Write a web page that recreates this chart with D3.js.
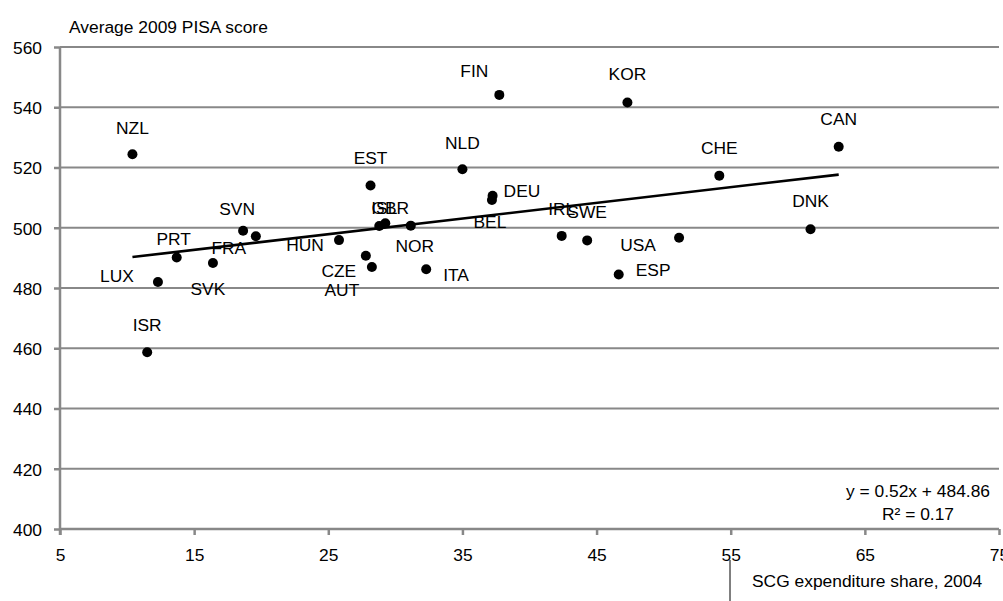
<!DOCTYPE html>
<html>
<head>
<meta charset="utf-8">
<script src="https://cdn.jsdelivr.net/npm/d3@7"></script>
<style>
  html, body { margin: 0; padding: 0; background: #fff; }
  svg { display: block; }
  text { font-family: "Liberation Sans", Arial, sans-serif; font-size: 17.4px; fill: #000; }
</style>
</head>
<body>
<svg id="chart" width="1003" height="601"></svg>
<script>
// ---- data ----
const countries = ["NZL","LUX","ISR","PRT","SVK","SVN","FRA","HUN","CZE","AUT","EST","ISL","GBR","NOR","ITA","NLD","FIN","DEU","BEL","IRL","SWE","ESP","KOR","USA","CHE","DNK","CAN"];
const scgShare  = [10.4, 12.3, 11.5, 13.7, 16.4, 18.65, 19.6, 25.8, 27.8, 28.25, 28.15, 28.8, 29.25, 31.15, 32.3, 35.0, 37.75, 37.25, 37.2, 42.4, 44.3, 46.65, 47.3, 51.15, 54.15, 60.95, 63.05];
const pisaScore = [524.4, 482.0, 458.7, 490.1, 488.3, 499.0, 497.2, 495.9, 490.7, 487.0, 514.0, 500.6, 501.5, 500.7, 486.2, 519.4, 544.1, 510.6, 509.2, 497.3, 495.8, 484.5, 541.6, 496.7, 517.3, 499.5, 526.9];
const xTicks = [5, 15, 25, 35, 45, 55, 65, 75];
const yTicks = [400, 420, 440, 460, 480, 500, 520, 540, 560];
const trendSlope = 0.52;
const trendIntercept = 484.86;
const equationText = "y = 0.52x + 484.86";
const r2Text = "R\u00B2 = 0.17";
const yTitle = "Average 2009 PISA score";
const xTitle = "SCG expenditure share, 2004";

// ---- label layout (pixel offsets from the point) ----
const labelLayout = {
  NZL:[0,-20,"middle"], LUX:[-41,0,"middle"], ISR:[0,-21,"middle"], PRT:[-3,-13,"middle"],
  SVK:[-5,32,"middle"], SVN:[-6,-16,"middle"], FRA:[-27,18,"middle"], HUN:[-34,11,"middle"],
  CZE:[-27,21,"middle"], AUT:[-30,29,"middle"], EST:[0,-22,"middle"], ISL:[5,-12,"middle"],
  GBR:[5,-9,"middle"], NOR:[4,26,"middle"], ITA:[17,12,"start"], NLD:[0,-20,"middle"],
  FIN:[-25,-18,"middle"], DEU:[11,1,"start"], BEL:[-2,28,"middle"], IRL:[0,-21,"middle"],
  SWE:[0,-22,"middle"], ESP:[17,2,"start"], KOR:[0,-22,"middle"], USA:[-41,13,"middle"],
  CHE:[0,-22,"middle"], DNK:[0,-22,"middle"], CAN:[0,-22,"middle"]
};

const svg = d3.select("#chart");
const x = d3.scaleLinear().domain([5, 75]).range([60, 999]);
const y = d3.scaleLinear().domain([400, 560]).range([529, 47]);
const grey = "#888888";

// gridlines
svg.append("g").selectAll("line").data(yTicks).join("line")
  .attr("x1", x(5)).attr("x2", x(75))
  .attr("y1", d => y(d)).attr("y2", d => y(d))
  .attr("stroke", grey).attr("stroke-width", 2);

// y axis
const yAxis = d3.axisLeft(y).tickValues(yTicks).tickSize(6).tickPadding(12).tickFormat(d3.format("d"));
const gy = svg.append("g").attr("transform", `translate(${x(5)},0)`).call(yAxis);
gy.select(".domain").remove();
gy.selectAll(".tick line").attr("stroke", grey).attr("stroke-width", 2.5);
gy.selectAll(".tick text").attr("font-size", null).attr("font-family", null).attr("dy", "0.36em").attr("fill", "#000");
svg.append("line").attr("x1", x(5)).attr("x2", x(5)).attr("y1", y(560)).attr("y2", y(400) + 6)
  .attr("stroke", grey).attr("stroke-width", 2.5);

// x axis
const xAxis = d3.axisBottom(x).tickValues(xTicks).tickSize(6).tickPadding(14).tickFormat(d3.format("d"));
const gx = svg.append("g").attr("transform", `translate(0,${y(400)})`).call(xAxis);
gx.select(".domain").remove();
gx.selectAll(".tick line").attr("stroke", grey).attr("stroke-width", 2.5);
gx.selectAll(".tick text").attr("font-size", null).attr("font-family", null).attr("fill", "#000");
svg.append("line").attr("x1", x(5)).attr("x2", x(75)).attr("y1", y(400)).attr("y2", y(400))
  .attr("stroke", grey).attr("stroke-width", 2.5);

// trend line
const xMin = d3.min(scgShare), xMax = d3.max(scgShare);
svg.append("line")
  .attr("x1", x(xMin)).attr("y1", y(trendSlope * xMin + trendIntercept))
  .attr("x2", x(xMax)).attr("y2", y(trendSlope * xMax + trendIntercept))
  .attr("stroke", "#000").attr("stroke-width", 2.6);

const pts = countries.map((c, i) => ({ c, xv: scgShare[i], yv: pisaScore[i] }));

// dots
svg.append("g").selectAll("circle").data(pts).join("circle")
  .attr("cx", d => x(d.xv)).attr("cy", d => y(d.yv)).attr("r", 5).attr("fill", "#000");

// labels
svg.append("g").selectAll("text").data(pts).join("text")
  .attr("x", d => x(d.xv) + labelLayout[d.c][0])
  .attr("y", d => y(d.yv) + labelLayout[d.c][1])
  .attr("text-anchor", d => labelLayout[d.c][2])
  .text(d => d.c);

// titles
svg.append("text").attr("x", 69).attr("y", 33).text(yTitle);
svg.append("text").attr("x", 752).attr("y", 587).text(xTitle);
svg.append("line").attr("x1", 730).attr("x2", 730).attr("y1", 560).attr("y2", 601)
  .attr("stroke", "#000").attr("stroke-width", 1);

// equation
svg.append("text").attr("x", 918).attr("y", 497).attr("text-anchor", "middle").text(equationText);
svg.append("text").attr("x", 918).attr("y", 520).attr("text-anchor", "middle").text(r2Text);
</script>
</body>
</html>
